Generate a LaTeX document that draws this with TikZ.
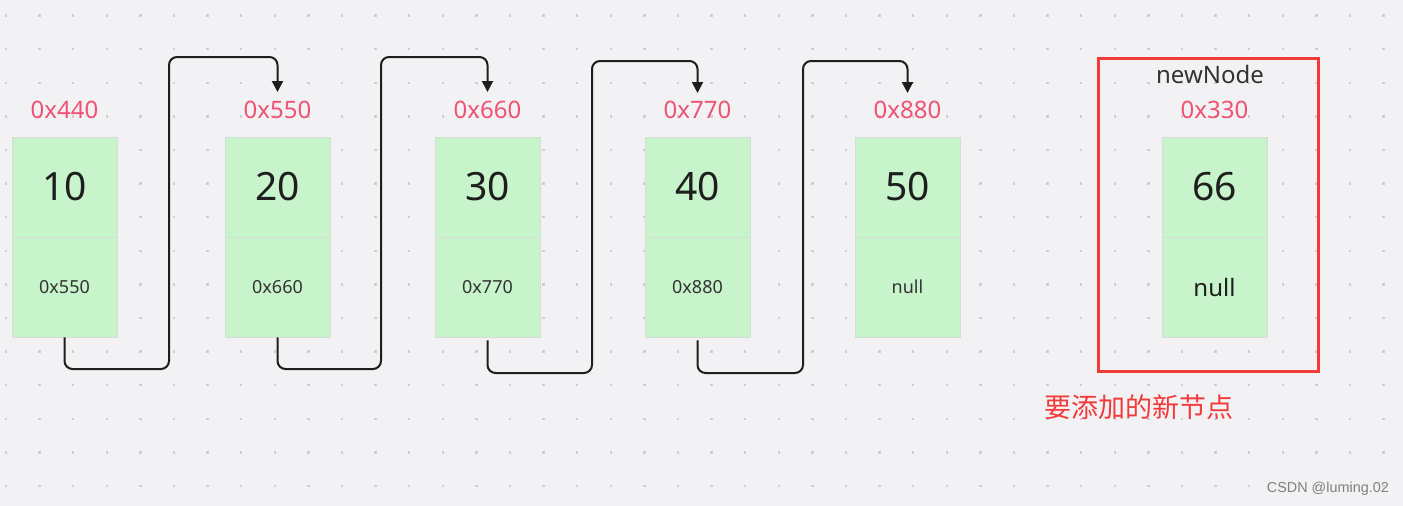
\documentclass[tikz,border=0pt]{standalone}
\usepackage{fontspec}
\setmainfont{Noto Sans}
\newfontfamily\cjk{Noto Sans CJK SC}
\newfontfamily\wmfont{Liberation Sans}
\usetikzlibrary{arrows.meta}
\definecolor{bg}{HTML}{F2F2F4}
\definecolor{dotc}{HTML}{CFCFD2}
\definecolor{cellf}{HTML}{C8F4CB}
\definecolor{cellb}{HTML}{D6DDD6}
\definecolor{addrred}{HTML}{EF5272}
\definecolor{boxred}{HTML}{F23A3A}
\definecolor{txt}{HTML}{1E1E1E}
\definecolor{txt2}{HTML}{333333}
\tikzset{
  cell/.style={draw=cellb, fill=cellf, line width=0.8pt, minimum width=105pt, minimum height=100pt, inner sep=0pt, text=txt},
  valtxt/.style={font=\fontsize{39}{39}\selectfont},
  ptrtxt/.style={font=\fontsize{18}{18}\selectfont, text=txt2},
  addr/.style={font=\fontsize{24}{24}\selectfont, text=addrred, inner sep=0pt},
  link/.style={draw=txt, line width=2pt, rounded corners=8pt, -{Triangle[length=11pt,width=11pt]}},
}
\begin{document}
\begin{tikzpicture}[x=1pt,y=-1pt]
\fill[bg] (0,0) rectangle (1403,506);
\useasboundingbox (0,0) rectangle (1403,506);
\foreach \i in {0,...,41}{
  \foreach \j in {0,...,14}{
    \fill[dotc] ({6+33.6*\i-1.2},{15.5+33.6*\j-1.2}) rectangle ++(2.4,2.4);
  }
}
% nodes
\foreach \k/\x/\v/\p/\a in {1/64.5/10/0x550/0x440, 2/277.5/20/0x660/0x550, 3/487.5/30/0x770/0x660, 4/697.5/40/0x880/0x770, 5/907.5/50/null/0x880}{
  \node[cell, valtxt] (t\k) at (\x,187) {\v};
  \node[cell, ptrtxt] (b\k) at (\x,287) {\p};
  \node[addr] (l\k) at (\x,110) {\a};
}
\node[cell, valtxt] (t6) at (1214.5,187) {66};
\node[cell, font=\fontsize{24}{24}\selectfont] (b6) at (1214.5,287) {null};
\node[addr] (l6) at (1214.5,110) {0x330};
\node[font=\fontsize{24}{24}\selectfont, text=txt2, inner sep=0pt] (nn) at (1210,74) {newNode};
\draw[boxred, line width=3pt] (1098,58) rectangle (1318,371);
\node[font=\cjk\fontsize{27}{27}\selectfont, text=boxred, anchor=west, inner sep=0pt] (cn) at (1044,407) {要添加的新节点};
\node[font=\wmfont\fontsize{14.4}{14.4}\selectfont, text=black!50, anchor=east, inner sep=0pt] (wm) at (1389,489) {CSDN @luming.02};
% connectors
\draw[link] (b1.south) -- (b1.south |- 0,369) -- (169,369) -- (169,57) -- (t2.north |- 0,57) -- (t2.north |- 0,92);
\draw[link] (b2.south) -- (b2.south |- 0,369) -- (381,369) -- (381,57) -- (t3.north |- 0,57) -- (t3.north |- 0,92);
\draw[link] ([yshift=-3pt]b3.south) -- (b3.south |- 0,373) -- (592,373) -- (592,61) -- (t4.north |- 0,61) -- (t4.north |- 0,93);
\draw[link] ([yshift=-3pt]b4.south) -- (b4.south |- 0,373) -- (803,373) -- (803,61) -- (t5.north |- 0,61) -- (t5.north |- 0,93);
\end{tikzpicture}
\end{document}
